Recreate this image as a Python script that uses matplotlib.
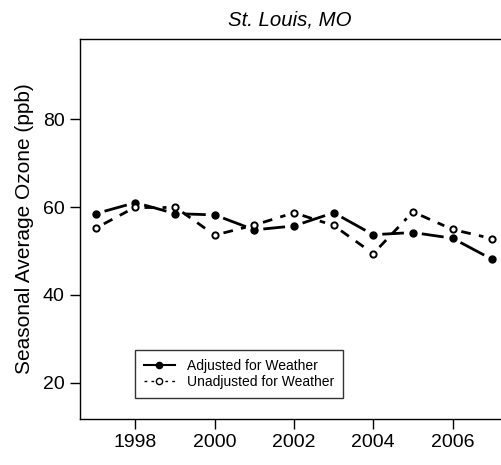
import numpy as np
import matplotlib
matplotlib.use("Agg")
import matplotlib.pyplot as plt
from matplotlib.lines import Line2D

plt.rcParams["font.family"] = ["Liberation Sans", "DejaVu Sans"]

years = np.arange(1997, 2008)
adjusted = [58.5, 61.0, 58.5, 58.2, 54.8, 55.7, 58.7, 53.7, 54.2, 52.9, 48.1]
unadjusted = [55.2, 60.0, 60.0, 53.6, 55.9, 58.7, 55.8, 49.4, 58.9, 54.9, 52.8]
yticks = [20, 40, 60, 80]
xticks = [1998, 2000, 2002, 2004, 2006]


def gapped_line(ax, x, y, gap_px, **kw):
    # mimic R type="b": segments stop short of the points
    pts = ax.transData.transform(np.column_stack([x, y]))
    inv = ax.transData.inverted()
    for p0, p1 in zip(pts[:-1], pts[1:]):
        d = p1 - p0
        n = np.hypot(*d)
        if n <= 2 * gap_px:
            continue
        u = d / n
        seg = inv.transform(np.array([p0 + u * gap_px, p1 - u * gap_px]))
        ax.plot(seg[:, 0], seg[:, 1], solid_capstyle="butt",
                dash_capstyle="butt", **kw)


fig = plt.figure(figsize=(5.01, 4.65), dpi=100)
# right edge of the box falls just outside the image, as in the reference
ax = fig.add_axes([80 / 501, 46 / 465, 428 / 501, 380 / 465])
ax.set_xlim(1996.6, 2007.4)
ax.set_ylim(11.8, 98.2)

gapped_line(ax, years, adjusted, 9, color="black", lw=2.0, ls="-")
gapped_line(ax, years, unadjusted, 9, color="black", lw=2.0,
            ls=(0, (3.5, 3)))
ax.plot(years, adjusted, ls="none", marker="o", ms=5, color="black")
ax.plot(years, unadjusted, ls="none", marker="o", ms=4.5, mfc="white",
        mec="black", mew=1.4)

ax.set_xticks(xticks)
ax.set_yticks(yticks)
ax.tick_params(length=7, width=1, labelsize=14, pad=4)
for s in ax.spines.values():
    s.set_linewidth(1)
ax.spines["right"].set_visible(False)
ax.set_ylabel("Seasonal Average Ozone (ppb)", fontsize=15, labelpad=6.5)
ax.set_title("St. Louis, MO", fontsize=14.7, style="italic", pad=10, x=0.49)

handles = [
    Line2D([], [], color="black", lw=1.5, marker="o", ms=4.5),
    Line2D([], [], color="black", lw=1.0, ls=(0, (2, 3)), marker="o", ms=4.5,
           mfc="white", mew=1.0),
]
leg = ax.legend(handles, ["Adjusted for Weather", "Unadjusted for Weather"],
                loc="lower left", bbox_to_anchor=(55 / 428, 21 / 380),
                fontsize=10, frameon=True, fancybox=False, handlelength=2.2,
                handletextpad=0.9, borderpad=0.65, labelspacing=0.15,
                borderaxespad=0)
leg.get_frame().set_edgecolor("black")
leg.get_frame().set_linewidth(1)

fig.savefig("out.png", dpi=100)
